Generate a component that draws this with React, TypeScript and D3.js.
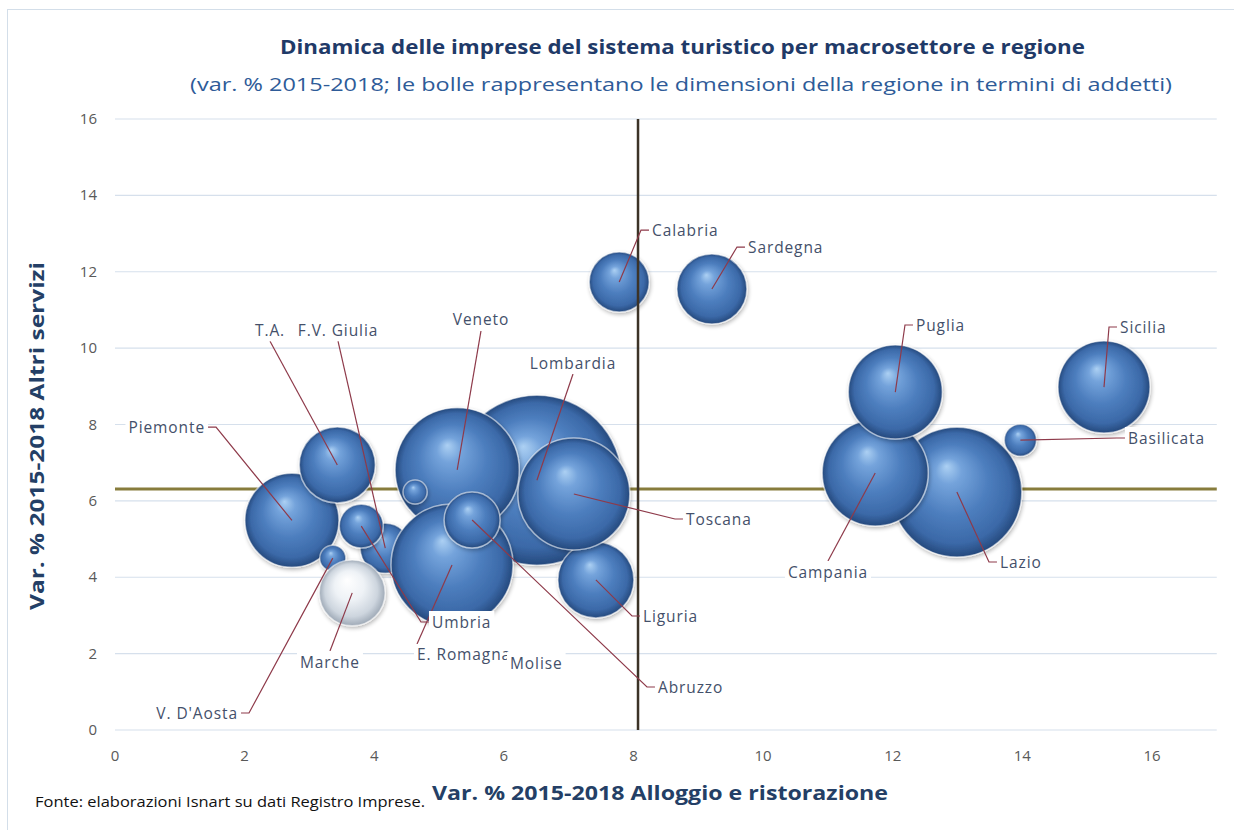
// App.tsx
import React, { useEffect, useRef } from 'react';
import * as d3 from 'd3';

const WIDTH = 1234;
const HEIGHT = 830;

// regioni (ordine di disegno)
const regions = [
  'Piemonte', "V. D'Aosta", 'Lombardia', 'T.A.', 'Veneto', 'F.V. Giulia', 'Liguria',
  'E. Romagna', 'Toscana', 'Umbria', 'Marche', 'Lazio', 'Abruzzo', 'Molise',
  'Campania', 'Puglia', 'Basilicata', 'Calabria', 'Sicilia', 'Sardegna',
];
// var. % 2015-2018 alloggio e ristorazione
const alloggio = [
  2.73, 3.36, 6.51, 3.43, 5.28, 4.17, 7.42, 5.2, 7.08, 3.8, 3.66, 12.99, 5.51, 4.63,
  11.73, 12.04, 13.97, 7.78, 15.26, 9.21,
];
// var. % 2015-2018 altri servizi
const altriServizi = [
  5.49, 4.5, 6.54, 6.94, 6.81, 4.76, 3.93, 4.32, 6.18, 5.34, 3.59, 6.23, 5.5, 6.23,
  6.73, 8.85, 7.59, 11.73, 8.98, 11.55,
];
// addetti (migliaia, stima dalla dimensione delle bolle)
const addetti = [
  55, 4.2, 180, 36, 96, 15.6, 36, 92.7, 78, 12, 27, 105, 19.5, 3.6, 70, 55, 6.4, 22.4,
  52.7, 30.5,
];
const highlighted = ['Marche'];

// medie Italia (linee di riferimento)
const mediaAlloggio = 8.07;
const mediaAltri = 6.31;

const xTicks = [0, 2, 4, 6, 8, 10, 12, 14, 16];
const yTicks = [0, 2, 4, 6, 8, 10, 12, 14, 16];

// etichette: posizione in unità dei dati, allineamento, tipo di linea guida
// L = gancio a sinistra, R = gancio a destra, B = dal basso del testo, T = dall'alto, N = nessuna
const labelX = [
  1.389, 1.898, 7.067, 2.392, 5.647, 3.441, 8.147, 4.66, 8.81, 4.891, 3.317, 13.655, 8.378,
  6.095, 11.001, 12.359, 15.63, 8.286, 15.507, 9.767,
];
const labelY = [
  7.93, 0.445, 9.61, 10.47, 10.74, 10.47, 2.985, 1.964, 5.525, 2.828, 1.78, 4.399, 1.126,
  1.754, 4.137, 10.605, 7.646, 13.09, 10.553, 12.647,
];
const labelAnchor = [
  'end', 'end', 'middle', 'middle', 'middle', 'middle', 'start', 'start', 'start', 'start',
  'middle', 'start', 'start', 'start', 'middle', 'start', 'start', 'start', 'start', 'start',
];
const leaderType = [
  'R', 'R', 'B', 'B', 'B', 'B', 'L', 'T', 'L', 'L', 'T', 'L', 'L', 'N', 'T', 'L', 'L', 'L',
  'L', 'L',
];

const FONT = "'Open Sans', 'DejaVu Sans', sans-serif";

const Chart: React.FC = () => {
  const ref = useRef<SVGSVGElement | null>(null);

  useEffect(() => {
    if (!ref.current) return;
    const svg = d3.select(ref.current);
    svg.selectAll('*').remove();

    const x = d3.scaleLinear().domain([0, 17]).range([115, 115 + 64.81 * 17]);
    const y = d3.scaleLinear().domain([0, 16]).range([730, 119]);
    const r = d3.scaleSqrt().domain([0, 180]).range([0, 85]);

    const defs = svg.append('defs');
    const blue = defs
      .append('radialGradient')
      .attr('id', 'sphere')
      .attr('cx', '50%')
      .attr('cy', '50%')
      .attr('r', '50%')
      .attr('fx', '42%')
      .attr('fy', '30%');
    [
      [0, '#acd0f3'],
      [0.2, '#74a3db'],
      [0.55, '#4d7ebe'],
      [0.85, '#3b69a8'],
      [1, '#25497d'],
    ].forEach(([o, c]) => blue.append('stop').attr('offset', o as number).attr('stop-color', c as string));

    const white = defs
      .append('radialGradient')
      .attr('id', 'sphereW')
      .attr('cx', '50%')
      .attr('cy', '50%')
      .attr('r', '50%')
      .attr('fx', '42%')
      .attr('fy', '30%');
    [
      [0, '#ffffff'],
      [0.45, '#eef2f6'],
      [0.8, '#cdd5de'],
      [1, '#9ea9b6'],
    ].forEach(([o, c]) => white.append('stop').attr('offset', o as number).attr('stop-color', c as string));

    const shadow = defs
      .append('filter')
      .attr('id', 'shadow')
      .attr('x', '-30%')
      .attr('y', '-30%')
      .attr('width', '160%')
      .attr('height', '160%');
    shadow.append('feGaussianBlur').attr('in', 'SourceAlpha').attr('stdDeviation', 2);
    shadow.append('feOffset').attr('dx', 1).attr('dy', 1.5).attr('result', 'off');
    shadow
      .append('feComponentTransfer')
      .append('feFuncA')
      .attr('type', 'linear')
      .attr('slope', 0.3);
    const merge = shadow.append('feMerge');
    merge.append('feMergeNode');
    merge.append('feMergeNode').attr('in', 'SourceGraphic');

    // cornice
    svg
      .append('rect')
      .attr('x', 7.5)
      .attr('y', 9.5)
      .attr('width', WIDTH)
      .attr('height', HEIGHT)
      .attr('fill', 'white')
      .attr('stroke', '#d3dee9');

    // titolo
    svg
      .append('text')
      .attr('x', 280)
      .attr('y', 54)
      .attr('textLength', 805)
      .attr('lengthAdjust', 'spacingAndGlyphs')
      .style('font-family', FONT)
      .style('font-size', '19px')
      .style('font-weight', 700)
      .style('fill', '#1f3a68')
      .text('Dinamica delle imprese del sistema turistico per macrosettore e regione');
    svg
      .append('text')
      .attr('x', 190)
      .attr('y', 91)
      .attr('textLength', 982)
      .attr('lengthAdjust', 'spacingAndGlyphs')
      .style('font-family', FONT)
      .style('font-size', '19px')
      .style('fill', '#2e5b98')
      .text('(var. % 2015-2018; le bolle rappresentano le dimensioni della regione in termini di addetti)');

    // griglia
    svg
      .append('g')
      .selectAll('line')
      .data(yTicks)
      .join('line')
      .attr('x1', x(0))
      .attr('x2', x(17))
      .attr('y1', (d) => y(d))
      .attr('y2', (d) => y(d))
      .attr('stroke', '#d6e0ec')
      .attr('stroke-width', 1.2);

    svg
      .append('g')
      .selectAll('text')
      .data(yTicks)
      .join('text')
      .attr('x', 97)
      .attr('y', (d) => y(d) + 5)
      .attr('text-anchor', 'end')
      .style('font-family', FONT)
      .style('font-size', '15px')
      .style('fill', '#595959')
      .text((d) => d);

    svg
      .append('g')
      .selectAll('text')
      .data(xTicks)
      .join('text')
      .attr('x', (d) => x(d))
      .attr('y', 761)
      .attr('text-anchor', 'middle')
      .style('font-family', FONT)
      .style('font-size', '15px')
      .style('fill', '#595959')
      .text((d) => d);

    // titoli degli assi
    svg
      .append('text')
      .attr('transform', `translate(44, 436) rotate(-90)`)
      .attr('x', -174)
      .attr('textLength', 348)
      .attr('lengthAdjust', 'spacingAndGlyphs')
      .style('font-family', FONT)
      .style('font-size', '19px')
      .style('font-weight', 700)
      .style('fill', '#243f66')
      .text('Var. % 2015-2018 Altri servizi');
    svg
      .append('text')
      .attr('x', 432)
      .attr('y', 800)
      .attr('textLength', 456)
      .attr('lengthAdjust', 'spacingAndGlyphs')
      .style('font-family', FONT)
      .style('font-size', '19px')
      .style('font-weight', 700)
      .style('fill', '#243f66')
      .text('Var. % 2015-2018 Alloggio e ristorazione');
    svg
      .append('text')
      .attr('x', 35)
      .attr('y', 807)
      .attr('textLength', 390)
      .attr('lengthAdjust', 'spacingAndGlyphs')
      .style('font-family', FONT)
      .style('font-size', '14px')
      .style('fill', '#111')
      .text('Fonte: elaborazioni Isnart su dati Registro Imprese.');

    // linea media altri servizi (sotto le bolle)
    svg
      .append('line')
      .attr('x1', x(0))
      .attr('x2', x(17))
      .attr('y1', y(mediaAltri))
      .attr('y2', y(mediaAltri))
      .attr('stroke', '#877c3c')
      .attr('stroke-width', 3);

    const data = regions.map((name, i) => ({
      name,
      x: alloggio[i],
      y: altriServizi[i],
      size: addetti[i],
      lx: labelX[i],
      ly: labelY[i],
      anchor: labelAnchor[i],
      leader: leaderType[i],
    }));

    svg
      .append('g')
      .selectAll('circle')
      .data(data)
      .join('circle')
      .attr('cx', (d) => x(d.x))
      .attr('cy', (d) => y(d.y))
      .attr('r', (d) => r(d.size))
      .attr('fill', (d) => (highlighted.includes(d.name) ? 'url(#sphereW)' : 'url(#sphere)'))
      .attr('stroke', 'rgba(255,255,255,0.55)')
      .attr('stroke-width', 1.5)
      .attr('filter', 'url(#shadow)');

    // linea media alloggio (sopra le bolle)
    svg
      .append('line')
      .attr('x1', x(mediaAlloggio))
      .attr('x2', x(mediaAlloggio))
      .attr('y1', y(16))
      .attr('y2', y(0))
      .attr('stroke', '#3c3327')
      .attr('stroke-width', 2.5);

    // etichette con linee guida
    const labels = svg.append('g');
    data.forEach((d) => {
      const g = labels.append('g');
      const tx = x(d.lx);
      const ty = y(d.ly);
      const px = x(d.x);
      const py = y(d.y);
      const leaderG = g.append('g');
      const box = g.append('rect').attr('fill', 'white');
      const t = g
        .append('text')
        .attr('x', tx)
        .attr('y', ty + 5.5)
        .attr('text-anchor', d.anchor)
        .style('font-family', FONT)
        .style('font-size', '15.5px')
        .style('letter-spacing', '0.9px')
        .style('fill', '#44506a')
        .text(d.name);
      const w = (t.node() as SVGTextElement).getComputedTextLength();
      const x0 = d.anchor === 'start' ? tx : d.anchor === 'end' ? tx - w : tx - w / 2;
      box
        .attr('x', x0 - 3)
        .attr('y', ty - 11)
        .attr('width', w + 6)
        .attr('height', 22);

      let pts: [number, number][] = [];
      if (d.leader === 'L') pts = [[x0 - 3, ty], [x0 - 11, ty], [px, py]];
      else if (d.leader === 'R') pts = [[x0 + w + 3, ty], [x0 + w + 11, ty], [px, py]];
      else if (d.leader === 'B') pts = [[tx, ty + 11], [px, py]];
      else if (d.leader === 'T') pts = [[tx, ty - 11], [px, py]];
      if (pts.length) {
        leaderG
          .append('path')
          .attr('d', d3.line()(pts))
          .attr('fill', 'none')
          .attr('stroke', '#8e3a4a')
          .attr('stroke-width', 1.2);
      }
    });
  }, []);

  return (
    <svg
      ref={ref}
      width={WIDTH}
      height={HEIGHT}
      style={{ position: 'absolute', left: 0, top: 0, display: 'block' }}
    />
  );
};

export default function App() {
  return <Chart />;
}
